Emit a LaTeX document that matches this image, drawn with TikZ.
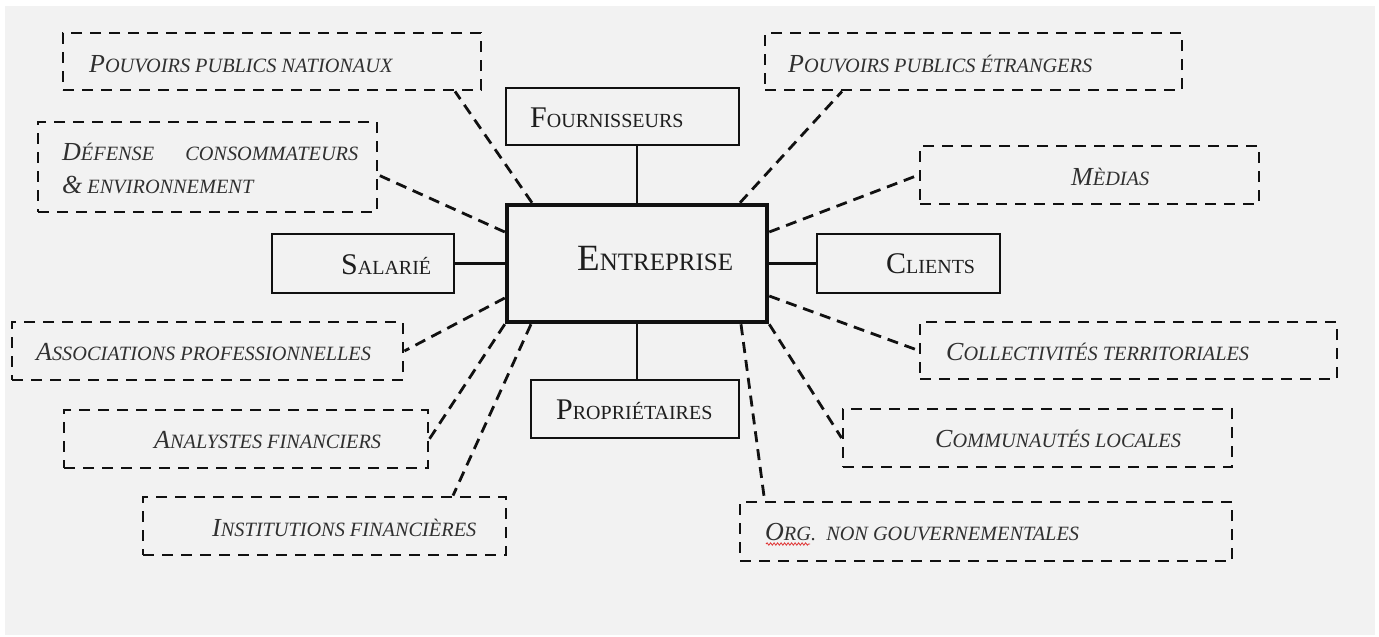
\documentclass[tikz,border=0pt]{standalone}
\usepackage{fontspec}
\setmainfont{Liberation Serif}
\usetikzlibrary{decorations.pathmorphing}
\definecolor{bg}{HTML}{F2F2F2}
\definecolor{ink}{HTML}{111111}
\definecolor{soltxt}{HTML}{1E1E1E}
\definecolor{dashtxt}{HTML}{303030}
\definecolor{squig}{HTML}{E03030}
\newcommand\IniS[1]{{\fontsize{30}{30}\selectfont #1}}
\newcommand\IniE[1]{{\fontsize{37}{37}\selectfont #1}}
\newcommand\IniD[1]{{\fontsize{26}{26}\selectfont #1}}
\tikzset{
  sbox/.style={draw=ink, line width=2.6pt, inner sep=0pt, fill=none},
  ebox/.style={draw=ink, line width=4.5pt, inner sep=0pt},
  dbox/.style={draw=ink, line width=2.8pt, dash pattern=on 11pt off 8pt, inner sep=0pt},
  slab/.style={anchor=base west, inner sep=0pt, text=soltxt, font=\fontsize{20}{24}\selectfont},
  elab/.style={anchor=base west, inner sep=0pt, text=soltxt, font=\fontsize{25}{30}\selectfont},
  dlab/.style={anchor=base west, inner sep=0pt, text=dashtxt, font=\itshape\fontsize{20.3}{24}\selectfont},
  sline/.style={draw=ink, line width=2.4pt},
  dline/.style={draw=ink, line width=2.8pt, dash pattern=on 11pt off 7pt},
}
\begin{document}
\begin{tikzpicture}[x=1pt,y=-1pt]
\useasboundingbox (0,0) rectangle (1379,637);
\fill[white] (0,0) rectangle (1379,637);
\fill[bg] (5,6) rectangle (1375,635);

% boxes
\node[ebox, minimum width=260pt, minimum height=117pt] (ent) at (637,263.5) {};
\node[sbox, minimum width=233pt, minimum height=57pt] (four) at (622.5,116.5) {};
\node[sbox, minimum width=182pt, minimum height=59pt] (sal) at (363,263.5) {};
\node[sbox, minimum width=183pt, minimum height=59pt] (cli) at (908.5,263.5) {};
\node[sbox, minimum width=208pt, minimum height=58pt] (prop) at (635,409) {};
\node[dbox, minimum width=418pt, minimum height=57pt] (ppn) at (272,61.5) {};
\node[dbox, minimum width=339pt, minimum height=90pt] (def) at (207.5,167) {};
\node[dbox, minimum width=417pt, minimum height=57pt] (ppe) at (973.5,61.5) {};
\node[dbox, minimum width=339pt, minimum height=58pt] (med) at (1089.5,175) {};
\node[dbox, minimum width=391pt, minimum height=58pt] (asp) at (207.5,351) {};
\node[dbox, minimum width=417pt, minimum height=57pt] (col) at (1128.5,350.5) {};
\node[dbox, minimum width=364pt, minimum height=58pt] (ana) at (246,439) {};
\node[dbox, minimum width=389pt, minimum height=58pt] (com) at (1037.5,438) {};
\node[dbox, minimum width=363pt, minimum height=58pt] (ins) at (324.5,526) {};
\node[dbox, minimum width=492pt, minimum height=59pt] (ngo) at (986,531.5) {};

% labels
\node[elab] (tent) at (577,270) {\IniE{E}NTREPRISE};
\node[slab] (tfour) at (530,127) {\IniS{F}OURNISSEURS};
\node[slab] (tsal) at (341,274) {\IniS{S}ALARIÉ};
\node[slab] (tcli) at (886,273) {\IniS{C}LIENTS};
\node[slab] (tprop) at (556,419) {\IniS{P}ROPRIÉTAIRES};
\node[dlab] (tppn) at (89,72) {\IniD{P}OUVOIRS PUBLICS NATIONAUX};
\node[dlab] (tdef1) at (62,160) {\makebox[296pt][s]{\IniD{D}ÉFENSE CONSOMMATEURS}};
\node[dlab] (tdef2) at (62,193) {\IniD{\&} ENVIRONNEMENT};
\node[dlab] (tppe) at (788,72) {\IniD{P}OUVOIRS PUBLICS ÉTRANGERS};
\node[dlab] (tmed) at (1071,185) {\IniD{M}ÈDIAS};
\node[dlab] (tasp) at (36,360) {\IniD{A}SSOCIATIONS PROFESSIONNELLES};
\node[dlab] (tcol) at (946,360) {\IniD{C}OLLECTIVITÉS TERRITORIALES};
\node[dlab] (tana) at (154,448) {\IniD{A}NALYSTES FINANCIERS};
\node[dlab] (tcom) at (935,447) {\IniD{C}OMMUNAUTÉS LOCALES};
\node[dlab] (tins) at (212,536) {\IniD{I}NSTITUTIONS FINANCIÈRES};
\node[dlab] (tngo) at (765,540) {\IniD{O}RG.\ \ NON GOUVERNEMENTALES};
\coordinate (sq1) at (766,544);
\coordinate (sq2) at (810,544);
\draw[squig, line width=0.8pt, decorate, decoration={snake, amplitude=1.2pt, segment length=3.5pt}] (sq1) -- (sq2);

% solid connectors
\draw[sline] (ent.north) -- (ent.north |- four.south);
\draw[sline] (ent.south) -- (ent.south |- prop.north);
\draw[sline] (sal.east) -- (sal.east -| ent.west);
\draw[sline] (ent.east) -- (cli.west);

% dashed connectors
\draw[dline] ([xshift=-105pt]ent.north) -- ([xshift=183pt]ppn.south);
\draw[dline] ([xshift=103pt]ent.north) -- ([xshift=-131.5pt]ppe.south);
\draw[dline] ([yshift=31.5pt]ent.west) -- ([yshift=-8pt]def.east);
\draw[dline] ([yshift=31.5pt]ent.east) -- (med.west);
\draw[dline] ([yshift=-34.5pt]ent.west) -- (asp.east);
\draw[dline] ([yshift=-32.5pt]ent.east) -- (col.west);
\draw[dline] (ent.south west) -- (ana.east);
\draw[dline] ([xshift=-106pt]ent.south) -- ([xshift=128.5pt]ins.north);
\draw[dline] ([xshift=104pt]ent.south) -- ([xshift=26pt]ngo.north west);
\draw[dline] (ent.south east) -- (com.west);
\end{tikzpicture}
\end{document}
